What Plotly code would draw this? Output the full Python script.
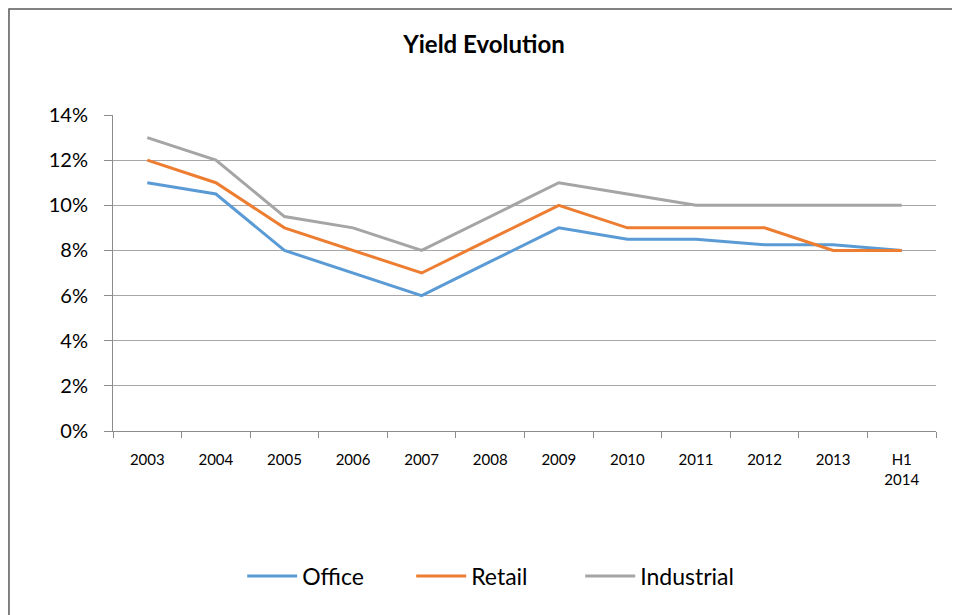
import plotly.graph_objects as go

YEARS = ["2003", "2004", "2005", "2006", "2007", "2008", "2009",
         "2010", "2011", "2012", "2013", "H1 2014"]
TICK_LABELS = ["2003", "2004", "2005", "2006", "2007", "2008", "2009",
               "2010", "2011", "2012", "2013", "H1<br>2014"]

OFFICE = [11.0, 10.5, 8.0, 7.0, 6.0, 7.5, 9.0, 8.5, 8.5, 8.25, 8.25, 8.0]
RETAIL = [12.0, 11.0, 9.0, 8.0, 7.0, 8.5, 10.0, 9.0, 9.0, 9.0, 8.0, 8.0]
INDUSTRIAL = [13.0, 12.0, 9.5, 9.0, 8.0, 9.5, 11.0, 10.5, 10.0, 10.0, 10.0, 10.0]

Y_TICKS = [0, 2, 4, 6, 8, 10, 12, 14]

SERIES = [
    ("Office", OFFICE, "#5B9BD5"),
    ("Retail", RETAIL, "#ED7D31"),
    ("Industrial", INDUSTRIAL, "#A5A5A5"),
]

FONT = "Lato, 'Open Sans', sans-serif"
AXIS_GRAY = "#8C8C8C"

fig = go.Figure()

for name, values, color in SERIES:
    fig.add_trace(
        go.Scatter(
            x=YEARS,
            y=values,
            mode="lines",
            name=name,
            line=dict(color=color, width=3),
        )
    )

fig.update_xaxes(
    type="category",
    range=[-0.5, len(YEARS) - 0.5],
    tickmode="array",
    tickvals=YEARS,
    ticktext=TICK_LABELS,
    tickson="boundaries",
    ticks="outside",
    ticklen=6,
    tickcolor=AXIS_GRAY,
    ticklabelstandoff=15,
    showline=True,
    linecolor=AXIS_GRAY,
    linewidth=1,
    showgrid=False,
    zeroline=False,
    tickfont=dict(size=15, color="#000000", family=FONT),
)

fig.update_yaxes(
    range=[0, 14],
    tickmode="array",
    tickvals=Y_TICKS,
    ticktext=[f"{v}%" for v in Y_TICKS],
    ticks="outside",
    ticklen=8,
    tickcolor=AXIS_GRAY,
    ticklabelstandoff=12,
    showline=True,
    linecolor=AXIS_GRAY,
    linewidth=1,
    showgrid=True,
    gridcolor="#A6A6A6",
    gridwidth=1,
    zeroline=False,
    tickfont=dict(size=20, color="#000000", family=FONT),
)

fig.update_layout(
    width=952,
    height=607,
    margin=dict(l=105, r=24, t=107, b=184),
    paper_bgcolor="white",
    plot_bgcolor="white",
    title=dict(
        text="<b>Yield Evolution</b>",
        x=0.5,
        xanchor="center",
        y=0.939,
        yanchor="middle",
        font=dict(size=24, color="#000000", family=FONT),
    ),
    showlegend=True,
    legend=dict(
        orientation="h",
        x=0.465,
        xanchor="center",
        y=-0.459,
        yanchor="middle",
        font=dict(size=23, color="#000000", family=FONT),
        itemwidth=50,
        entrywidth=104,
        entrywidthmode="pixels",
        tracegroupgap=0,
    ),
    shapes=[
        dict(
            type="rect",
            xref="paper",
            yref="paper",
            x0=-0.1264,
            x1=2.0,
            y0=-1.0,
            y1=1.3354,
            line=dict(color="#595959", width=1.5),
            fillcolor="rgba(0,0,0,0)",
            layer="below",
        )
    ],
)

fig.write_html("out.html")
